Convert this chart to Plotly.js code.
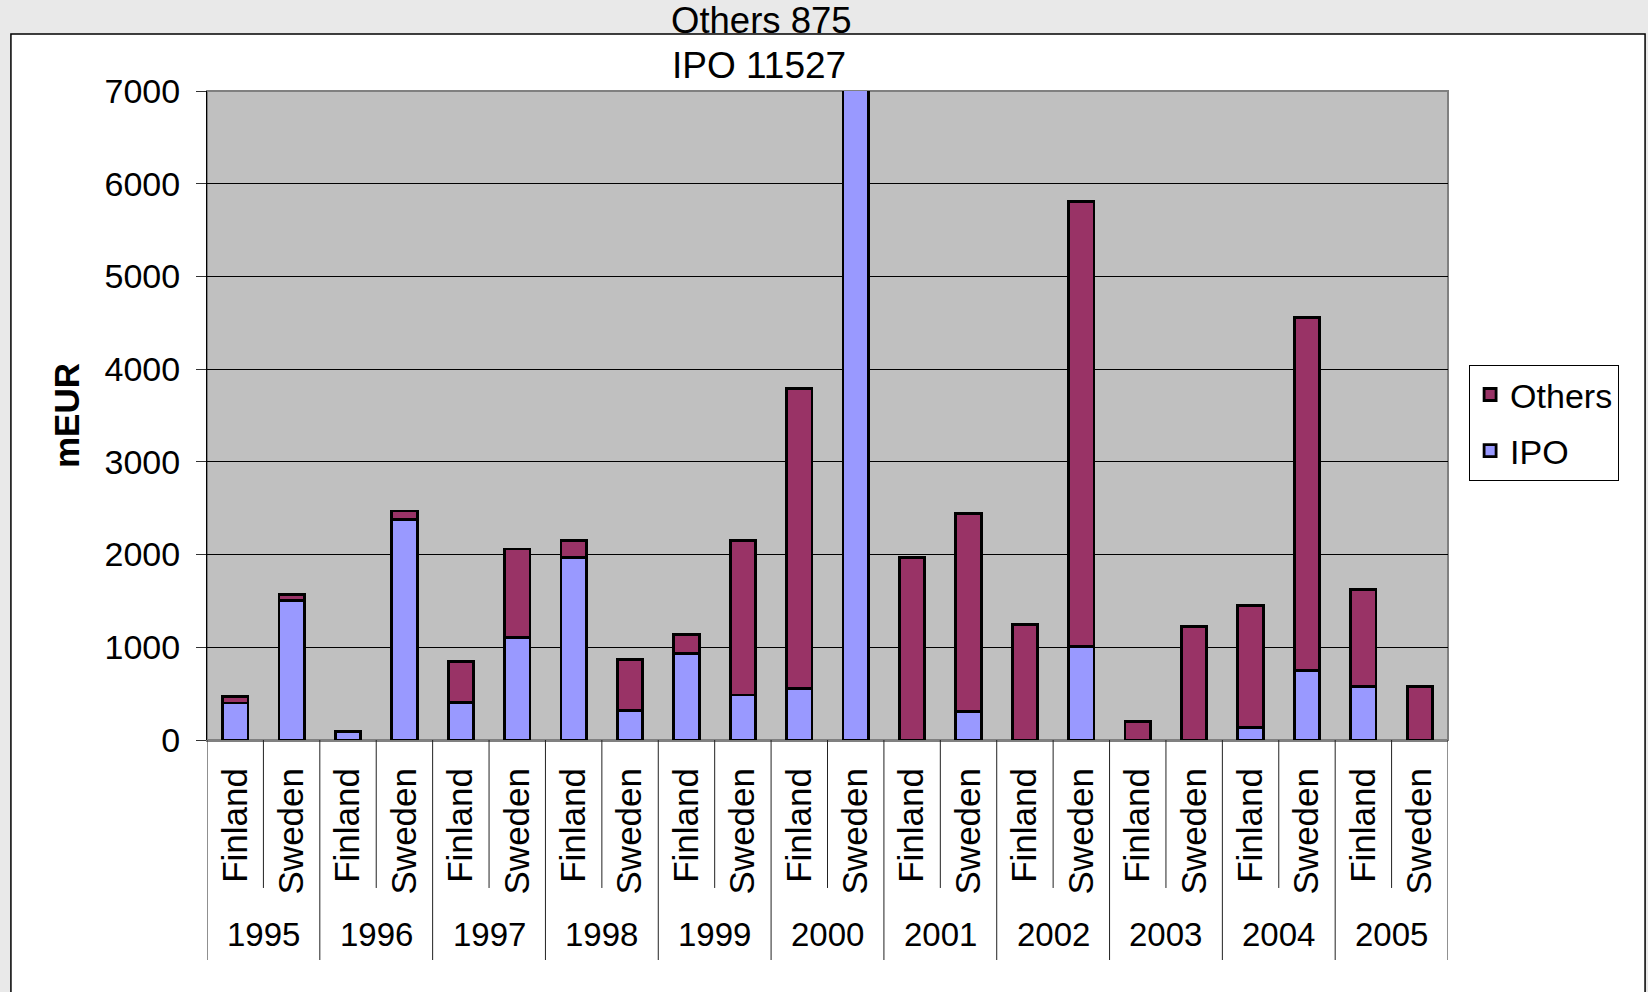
<!DOCTYPE html>
<html>
<head>
<meta charset="utf-8">
<script src="https://cdn.plot.ly/plotly-3.0.1.min.js"></script>
<style>html,body{margin:0;padding:0;background:#e9e9e9;}#chart{width:1648px;height:992px;}</style>
</head>
<body>
<div id="chart"></div>
<script>
// ---- data ----
var years = ['1995','1996','1997','1998','1999','2000','2001','2002','2003','2004','2005'];
var countries = ['Finland','Sweden'];
var ipoValues    = [400, 1505,  90, 2380, 405, 1105, 1970, 320, 930,  485,  555, 11527,    0,  305,    0, 1010,   0,    0, 135,  750,  580,   0];
var othersValues = [ 68,   65,   0,   90, 440,  955,  180, 550, 205, 1665, 3240,   875, 1970, 2135, 1250, 4800, 200, 1220, 1315, 3805, 1040, 575];
var yTickVals = [0,1000,2000,3000,4000,5000,6000,7000];
var seriesNames = ['IPO','Others'];
var seriesColors = ['#9999FF','#993366'];
var legendRanks = [2, 1];

// ---- derived categories ----
var xIdx = [], xLabels = [];
years.forEach(function(y, yi){
  countries.forEach(function(c, ci){
    xIdx.push(yi*countries.length + ci);
    xLabels.push(c);
  });
});

var FONT = 'Arial, "Liberation Sans", sans-serif';

var traces = [ipoValues, othersValues].map(function(vals, i){
  return {
    type: 'bar',
    name: seriesNames[i],
    x: xIdx,
    y: vals,
    legendgroup: seriesNames[i],
    legendrank: legendRanks[i],
    marker: {color: seriesColors[i], line: {color: '#000', width: 2.8}},
    hoverinfo: 'x+y+name'
  };
});

var shapes = [
  // outer chart frame
  {type:'rect', xref:'paper', yref:'paper', x0:-0.158, x1:1.1588, y0:-0.45, y1:1.0878,
   fillcolor:'#ffffff', line:{color:'#000', width:1.5}, layer:'below'},
  // plot area
  {type:'rect', xref:'paper', yref:'paper', x0:0, x1:1, y0:0, y1:1,
   fillcolor:'#C0C0C0', line:{color:'#808080', width:2}, layer:'below'}
];
// category dividers below the axis
var nCat = xIdx.length;
for (var b = 0; b <= nCat; b++) {
  var isYearBoundary = (b % countries.length === 0);
  shapes.push({type:'line', xref:'x', yref:'paper', x0:b-0.5, x1:b-0.5, y0:0,
    y1: isYearBoundary ? -0.339 : -0.228, line:{color:'#222', width:1}});
}

var annotations = [];
years.forEach(function(y, yi){
  annotations.push({xref:'x', yref:'paper', x: yi*countries.length + (countries.length-1)/2, y:-0.299,
    text:y, showarrow:false, xanchor:'center', yanchor:'middle', font:{family:FONT, size:33, color:'#000'}});
});
// labels for the clipped bar
var maxI = 0;
ipoValues.forEach(function(v,i){ if (v + othersValues[i] > ipoValues[maxI] + othersValues[maxI]) maxI = i; });
annotations.push({xref:'x', yref:'paper', x: xIdx[maxI], xshift:-94, y:1.108, text:'Others ' + othersValues[maxI],
  showarrow:false, xanchor:'center', yanchor:'middle', font:{family:FONT, size:36.5, color:'#000'}});
annotations.push({xref:'x', yref:'paper', x: xIdx[maxI], xshift:-97, y:1.040, text:'IPO ' + ipoValues[maxI],
  showarrow:false, xanchor:'center', yanchor:'middle', font:{family:FONT, size:37, color:'#000'}});

var layout = {
  width: 1648, height: 992,
  paper_bgcolor: '#e9e9e9',
  plot_bgcolor: 'rgba(0,0,0,0)',
  margin: {l:207, r:200, t:91, b:252, pad:0},
  barmode: 'stack',
  bargap: 0.55,
  showlegend: true,
  font: {family: FONT, color:'#000'},
  xaxis: {
    type:'linear', range:[-0.5, nCat-0.5],
    tickmode:'array', tickvals:xIdx, ticktext:xLabels, tickangle:-90,
    tickfont:{family:FONT, size:35, color:'#000'},
    ticks:'', ticklabelstandoff:12,
    showgrid:false, zeroline:false,
    showline:true, linecolor:'#808080', linewidth:2, fixedrange:true
  },
  yaxis: {
    range:[0,7000], tickmode:'array', tickvals:yTickVals,
    tickfont:{family:FONT, size:34, color:'#000'},
    ticks:'outside', ticklen:10, tickcolor:'#333', tickwidth:1, ticklabelstandoff:9,
    showgrid:true, gridcolor:'#000', gridwidth:1,
    zeroline:false, showline:true, linecolor:'#000', linewidth:1,
    title:{text:'mEUR', font:{family:FONT, size:35, color:'#000', weight:'bold'}, standoff:14},
    fixedrange:true
  },
  legend: {
    x:1.017, y:0.578, xanchor:'left', yanchor:'top',
    bgcolor:'#ffffff', bordercolor:'#000', borderwidth:1,
    font:{family:FONT, size:34, color:'#000'},
    traceorder:'grouped', tracegroupgap:9
  },
  shapes: shapes,
  annotations: annotations
};

Plotly.newPlot('chart', traces, layout, {displayModeBar:false, staticPlot:true});
</script>
</body>
</html>
